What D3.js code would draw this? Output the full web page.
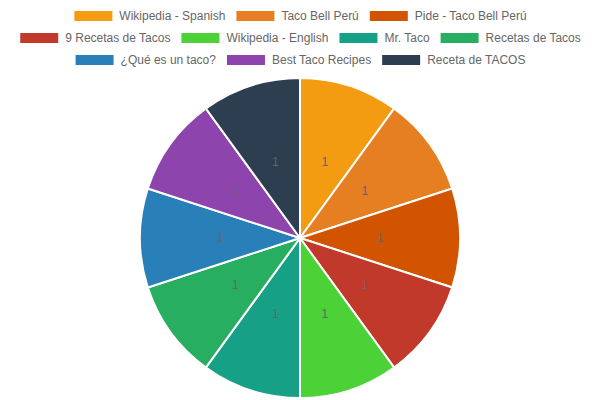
<!DOCTYPE html>
<html>
<head>
<meta charset="utf-8">
<script src="https://cdn.jsdelivr.net/npm/d3@7"></script>
<style>
  body { margin: 0; background: #fff; }
  svg { display: block; font-family: "Liberation Sans", Helvetica, Arial, sans-serif; }
</style>
</head>
<body>
<div id="chart"></div>
<script>
// Slice names, values and colours
var labels = ["Wikipedia - Spanish", "Taco Bell Perú", "Pide - Taco Bell Perú", "9 Recetas de Tacos",
  "Wikipedia - English", "Mr. Taco", "Recetas de Tacos", "¿Qué es un taco?", "Best Taco Recipes", "Receta de TACOS"];
var values = [1, 1, 1, 1, 1, 1, 1, 1, 1, 1];
var colors = ["#f39c12", "#e67e22", "#d35400", "#c0392b", "#4cd137",
  "#16a085", "#27ae60", "#2980b9", "#8e44ad", "#2c3e50"];

var width = 600;
var height = 400;
var fontSize = 12;
var boxWidth = 40;
var pad = 10;

var svg = d3.select("#chart")
  .append("svg")
    .attr("width", width)
    .attr("height", height);

// Legend - measure each item, then wrap into centred rows
var legend = svg.append("g");
var items = legend.selectAll("g")
  .data(labels)
  .enter()
  .append("g");

items.append("text")
  .attr("font-size", fontSize)
  .attr("fill", "#666")
  .attr("dominant-baseline", "central")
  .text(function(d) { return d; });

var widths = [];
items.select("text").each(function() {
  widths.push(boxWidth + fontSize / 2 + this.getComputedTextLength());
});

var rows = [[]];
var rowWidths = [0];
widths.forEach(function(w, i) {
  var last = rows.length - 1;
  if (i > 0 && rowWidths[last] + w + pad > width) {
    rows.push([]);
    rowWidths.push(0);
    last++;
  }
  rows[last].push(i);
  rowWidths[last] += w + pad;
});

var lineHeight = fontSize + pad;
rows.forEach(function(row, r) {
  var x = (width - rowWidths[r]) / 2 + pad / 2;
  var y = pad + r * lineHeight;
  row.forEach(function(i) {
    var g = d3.select(items.nodes()[i]).attr("transform", "translate(" + x + "," + y + ")");
    g.insert("rect", "text")
      .attr("width", boxWidth)
      .attr("height", fontSize)
      .attr("fill", colors[i])
      .attr("stroke", "#fff")
      .attr("stroke-width", 2);
    g.select("text")
      .attr("x", boxWidth + fontSize / 2)
      .attr("y", fontSize / 2);
    x += widths[i] + pad;
  });
});

// Pie
var radius = 160;
var pie = d3.pie().sort(null);
var arc = d3.arc().innerRadius(0).outerRadius(radius);
var labelArc = d3.arc().innerRadius(radius / 2).outerRadius(radius / 2);

var chart = svg.append("g")
  .attr("transform", "translate(300,238)");

var slices = chart.selectAll("g.slice")
  .data(pie(values))
  .enter()
  .append("g")
  .classed("slice", true);

slices.append("path")
  .attr("d", arc)
  .attr("fill", function(d, i) { return colors[i]; })
  .attr("stroke", "#fff")
  .attr("stroke-width", 2);

slices.append("text")
  .attr("transform", function(d) { return "translate(" + labelArc.centroid(d) + ")"; })
  .attr("text-anchor", "middle")
  .attr("dominant-baseline", "central")
  .attr("font-size", fontSize)
  .attr("fill", "#666")
  .text(function(d) { return d.data; });
</script>
</body>
</html>
